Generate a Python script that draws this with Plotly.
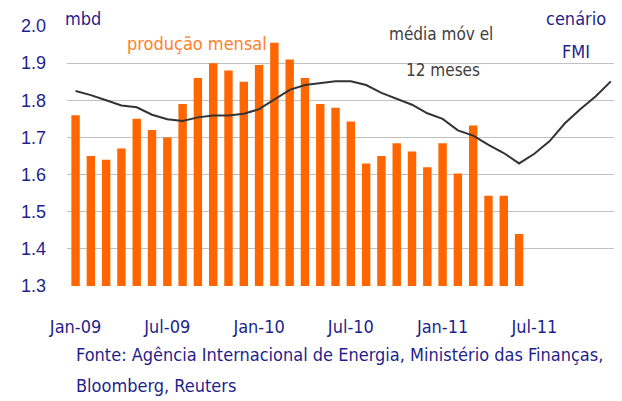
import plotly.graph_objects as go

months = [f"{m}-{y}" for y in ["09", "10", "11"] for m in
          ["Jan", "Feb", "Mar", "Apr", "May", "Jun", "Jul", "Aug", "Sep", "Oct", "Nov", "Dec"]]

producao_mensal = [1.76, 1.65, 1.64, 1.67, 1.75, 1.72, 1.70, 1.79, 1.86, 1.90, 1.88, 1.85,
                   1.895, 1.955, 1.91, 1.86, 1.79, 1.78, 1.743, 1.63, 1.65, 1.684, 1.662, 1.62,
                   1.684, 1.603, 1.732, 1.543, 1.543, 1.44]

media_movel = [1.825, 1.814, 1.80, 1.786, 1.781, 1.761, 1.749, 1.744, 1.754, 1.759, 1.759, 1.764,
               1.776, 1.803, 1.828, 1.841, 1.846, 1.851, 1.851, 1.841, 1.82, 1.803, 1.788, 1.765,
               1.75, 1.719, 1.705, 1.68, 1.658, 1.63, 1.656, 1.69, 1.738, 1.776, 1.81, 1.851]

x_ticks = ["Jan-09", "Jul-09", "Jan-10", "Jul-10", "Jan-11", "Jul-11"]
y_ticks = [1.3, 1.4, 1.5, 1.6, 1.7, 1.8, 1.9, 2.0]

NAVY = "#1f1f8c"
NARROW = "DejaVu Sans Condensed, Liberation Sans Narrow, Liberation Sans, Arial, sans-serif"
REG = "Liberation Sans, Arial, sans-serif"

fig = go.Figure()
fig.add_trace(go.Bar(x=months[:len(producao_mensal)], y=producao_mensal,
                     marker=dict(color="#ff6600", line=dict(width=0))))
fig.add_trace(go.Scatter(x=months, y=media_movel, mode="lines",
                         line=dict(color="#333333", width=2)))

fig.update_layout(
    width=614, height=393,
    margin=dict(l=59, r=2, t=18, b=115),
    paper_bgcolor="white", plot_bgcolor="white",
    showlegend=False, bargap=0.45,
    xaxis=dict(type="category", categoryorder="array", categoryarray=months,
               range=[-0.56, 35.6], tickvals=x_ticks, ticktext=x_ticks,
               tickfont=dict(family=NARROW, size=18, color=NAVY),
               showgrid=False, ticks="", ticklabelstandoff=28, showline=False,
               automargin=False),
    yaxis=dict(range=[1.3, 2.0], tickvals=y_ticks,
               ticktext=[f"{v:.1f}" for v in y_ticks],
               tickfont=dict(family=REG, size=18, color=NAVY),
               showgrid=True, gridcolor="#c0c0c0", gridwidth=1,
               zeroline=False, ticks="", ticklabelstandoff=20, showline=False,
               automargin=False),
)

def note(text, x, y, color, xanchor="center", size=18, family=NARROW):
    fig.add_annotation(text=text, x=x, y=y, xref="paper", yref="paper",
                       xanchor=xanchor, yanchor="middle", showarrow=False,
                       font=dict(family=family, size=size, color=color))

note("mbd", -4 / 553, 1.027, NAVY, xanchor="left")
note("produção mensal", 0.104, 0.931, "#ff7f2a", xanchor="left")
note("média móv el", 0.676, 0.969, "#404040", size=17)
note("12 meses", 0.680, 0.831, "#404040", size=17)
note("cenário", 0.920, 1.027, NAVY)
note("FMI", 0.920, 0.90, NAVY)
note("Fonte: Agência Internacional de Energia, Ministério das Finanças,", (74 - 67) / 553, -0.265, NAVY,
     xanchor="left", size=18)
note("Bloomberg, Reuters", (74 - 67) / 553, -0.381, NAVY, xanchor="left", size=18)

fig.write_html("out.html")
